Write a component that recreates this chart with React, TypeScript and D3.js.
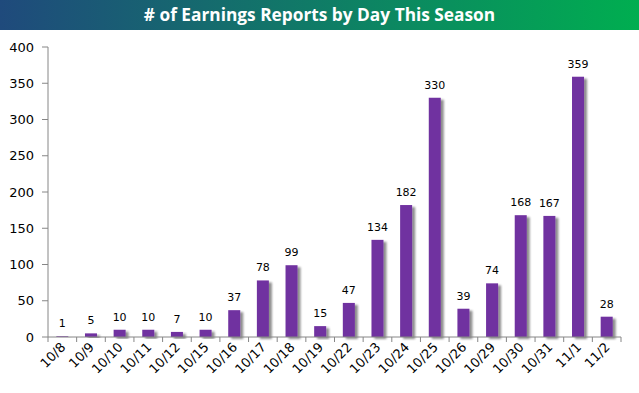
import React from "react";
import * as d3 from "d3";

const categories = ["10/8","10/9","10/10","10/11","10/12","10/15","10/16","10/17","10/18","10/19","10/22","10/23","10/24","10/25","10/26","10/29","10/30","10/31","11/1","11/2"];
const values = [1,5,10,10,7,10,37,78,99,15,47,134,182,330,39,74,168,167,359,28];
const yTicks = [0,50,100,150,200,250,300,350,400];
const title = "# of Earnings Reports by Day This Season";

const W = 639, H = 393;
const left = 48, right = 621, top = 47, bottom = 337;

export default function App() {
  const x = d3.scaleBand<string>().domain(categories).range([left, right]).paddingInner(0).paddingOuter(0);
  const y = d3.scaleLinear().domain([0, 400]).range([bottom, top]);
  const bw = 12;
  const axisColor = "#868686";
  const font = "Tahoma, 'DejaVu Sans', Verdana, sans-serif";
  return (
    <svg width={W} height={H} style={{ position: "absolute", left: 0, top: 0, background: "#fff" }}>
      <defs>
        <linearGradient id="tg" x1="0" x2="1" y1="0" y2="0">
          <stop offset="0%" stopColor="#1f4a7c" />
          <stop offset="100%" stopColor="#00ae50" />
        </linearGradient>
        <filter id="sh" x="-50%" y="-10%" width="200%" height="130%">
          <feGaussianBlur in="SourceAlpha" stdDeviation="1.2" />
          <feOffset dx="2.5" dy="1.5" result="b" />
          <feComponentTransfer><feFuncA type="linear" slope="0.45" /></feComponentTransfer>
          <feMerge><feMergeNode /><feMergeNode in="SourceGraphic" /></feMerge>
        </filter>
      </defs>
      <rect x={0} y={0} width={W} height={30} fill="url(#tg)" />
      <text x={W / 2} y={21} textAnchor="middle" fill="#fff" fontFamily="'Open Sans', Calibri, sans-serif" fontWeight="bold" fontSize={17.3}>{title}</text>

      {/* y axis */}
      <line x1={left} x2={left} y1={top} y2={bottom} stroke={axisColor} />
      {yTicks.map(t => (
        <g key={t}>
          <line x1={left - 6} x2={left} y1={y(t)} y2={y(t)} stroke={axisColor} />
          <text x={34} y={y(t) + 4.5} textAnchor="end" fontFamily={font} fontSize={13} fill="#000">{t}</text>
        </g>
      ))}

      {/* bars */}
      {categories.map((c, i) => {
        const cx = (x(c) as number) + x.bandwidth() / 2;
        return (
          <g key={c}>
            <rect x={cx - bw / 2} y={y(values[i])} width={bw} height={bottom - y(values[i])} fill="#7030a0" filter="url(#sh)" />
            <text x={cx} y={y(values[i]) - 9} textAnchor="middle" fontFamily={font} fontSize={11} fill="#000">{values[i]}</text>
          </g>
        );
      })}

      {/* x axis */}
      <line x1={left} x2={right} y1={bottom} y2={bottom} stroke={axisColor} />
      {categories.concat(["__end"]).map((c, i) => {
        const tx = left + i * x.bandwidth();
        return <line key={c} x1={tx} x2={tx} y1={bottom} y2={bottom + 5} stroke={axisColor} />;
      })}
      {categories.map(c => {
        const cx = (x(c) as number) + x.bandwidth() / 2 + 4;
        const ty = bottom + 11;
        return (
          <text key={c} x={cx} y={ty} textAnchor="end" fontFamily={font} fontSize={13} fill="#000" transform={`rotate(-45 ${cx} ${ty})`}>{c}</text>
        );
      })}
    </svg>
  );
}
